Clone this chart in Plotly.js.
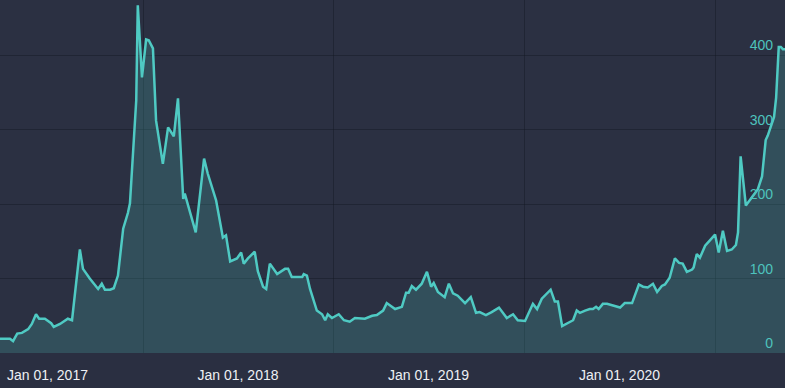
<!DOCTYPE html>
<html>
<head>
<meta charset="utf-8">
<script src="https://cdn.plot.ly/plotly-3.0.1.min.js"></script>
<style>
  html, body { margin: 0; padding: 0; background: #2b3042; }
  #chart { width: 785px; height: 388px; }
</style>
</head>
<body>
<div id="chart"></div>
<script>
const dates = [
  "2017-04-02","2017-04-21","2017-04-27","2017-05-05","2017-05-14","2017-05-26","2017-06-02","2017-06-10","2017-06-16","2017-06-27",
  "2017-07-09","2017-07-14","2017-07-26","2017-08-10","2017-08-18","2017-08-24","2017-09-02","2017-09-08","2017-09-21","2017-10-07",
  "2017-10-14","2017-10-20","2017-10-30","2017-11-06","2017-11-14","2017-11-24","2017-12-03","2017-12-07","2017-12-13","2017-12-19",
  "2017-12-22","2017-12-30","2018-01-07","2018-01-12","2018-01-20","2018-01-26","2018-02-08","2018-02-18","2018-03-01","2018-03-09",
  "2018-03-19","2018-03-22","2018-04-12","2018-04-28","2018-05-05","2018-05-21","2018-06-03","2018-06-09","2018-06-17","2018-06-30",
  "2018-07-08","2018-07-13","2018-07-21","2018-08-03","2018-08-09","2018-08-19","2018-08-25","2018-09-01","2018-09-15","2018-09-30",
  "2018-10-06","2018-10-13","2018-11-02","2018-11-05","2018-11-11","2018-11-17","2018-11-30","2018-12-10","2018-12-16","2018-12-21",
  "2018-12-29","2019-01-11","2019-01-21","2019-02-01","2019-02-11","2019-02-21","2019-03-02","2019-03-16","2019-03-25","2019-04-06",
  "2019-04-13","2019-04-29","2019-05-12","2019-05-20","2019-05-25","2019-05-31","2019-06-08","2019-06-19","2019-06-29","2019-07-07",
  "2019-07-12","2019-07-20","2019-08-02","2019-08-10","2019-08-18","2019-08-27","2019-09-10","2019-09-21","2019-10-01","2019-10-08",
  "2019-10-20","2019-10-31","2019-11-14","2019-11-29","2019-12-11","2019-12-20","2020-01-03","2020-01-18","2020-01-26","2020-02-04",
  "2020-02-14","2020-02-21","2020-02-29","2020-03-06","2020-03-14","2020-03-23","2020-04-04","2020-04-11","2020-04-17","2020-04-27",
  "2020-05-06","2020-05-12","2020-05-18","2020-05-23","2020-05-31","2020-06-08","2020-07-03","2020-07-12","2020-07-26","2020-08-08",
  "2020-08-16","2020-08-25","2020-09-04","2020-09-12","2020-09-21","2020-09-27","2020-10-06","2020-10-16","2020-10-24","2020-10-31",
  "2020-11-08","2020-11-18","2020-11-21","2020-11-27","2020-12-03","2020-12-13","2021-01-01","2021-01-08","2021-01-16","2021-01-24",
  "2021-02-02","2021-02-10","2021-02-14","2021-02-19","2021-03-01","2021-03-24","2021-04-01","2021-04-08","2021-04-12","2021-04-24",
  "2021-04-28","2021-05-03","2021-05-07","2021-05-11","2021-05-15"
];
const prices = [
  19,19,16,26,27,32,39,52,46,46,
  40,35,39,46,44,83,139,113,100,86,
  93,85,85,87,104,167,188,201,272,339,
  467,370,421,420,409,312,254,303,291,342,
  207,214,162,261,241,205,155,158,123,127,
  135,120,127,136,110,89,86,120,106,113,
  113,102,102,106,104,86,57,52,44,52,
  47,52,44,42,47,47,46,50,51,57,
  67,59,62,81,81,90,85,93,109,89,
  94,82,75,93,80,77,67,75,54,55,
  51,55,61,47,52,44,43,66,59,73,
  80,85,69,69,36,39,44,57,54,57,
  59,59,62,59,66,66,61,67,67,92,
  89,88,93,82,90,92,101,127,121,120,
  109,112,115,133,128,144,159,135,164,137,
  139,145,162,264,198,220,237,286,292,317,
  343,411,411,408,408
];
const yTicks = [0, 100, 200, 300, 400];
const xLabelDates = ["2017-07-02", "2018-07-02", "2019-07-02", "2020-07-02"];
const xLabels = ["Jan 01, 2017", "Jan 01, 2018", "Jan 01, 2019", "Jan 01, 2020"];
const xGridDates = ["2018-01-01", "2019-01-01", "2020-01-01", "2021-01-01"];

const trace = {
  x: dates,
  y: prices,
  type: 'scatter',
  mode: 'lines',
  fill: 'tozeroy',
  fillcolor: 'rgba(78,205,196,0.2)',
  line: { color: '#4fcac3', width: 2.5 },
  hoverinfo: 'skip'
};

const gridColor = 'rgba(20,24,36,0.45)';

const layout = {
  width: 785,
  height: 388,
  margin: { l: 0, r: 0, t: 0, b: 35 },
  paper_bgcolor: '#2a2f41',
  plot_bgcolor: '#2b3042',
  showlegend: false,
  font: { family: 'Liberation Sans, Arial, sans-serif' },
  xaxis: {
    type: 'date',
    range: ['2017-04-02', '2021-05-15'],
    tickmode: 'array',
    tickvals: xLabelDates,
    ticktext: xLabels,
    showgrid: false,
    minor: {
      tickmode: 'array',
      tickvals: xGridDates,
      showgrid: true,
      gridcolor: gridColor,
      gridwidth: 1,
      ticks: ''
    },
    zeroline: false,
    showline: false,
    ticks: '',
    ticklabelstandoff: 12,
    tickfont: { color: '#eef0f4', size: 14 }
  },
  yaxis: {
    side: 'right',
    range: [0, 474],
    tickvals: yTicks,
    ticktext: yTicks.map(String),
    ticklabelposition: 'inside top',
    ticklabelstandoff: 9,
    showgrid: true,
    gridcolor: gridColor,
    gridwidth: 1,
    zeroline: false,
    showline: false,
    ticks: '',
    tickfont: { color: '#4ec3bd', size: 14 }
  }
};

Plotly.newPlot('chart', [trace], layout, { displayModeBar: false, staticPlot: true });
</script>
</body>
</html>
